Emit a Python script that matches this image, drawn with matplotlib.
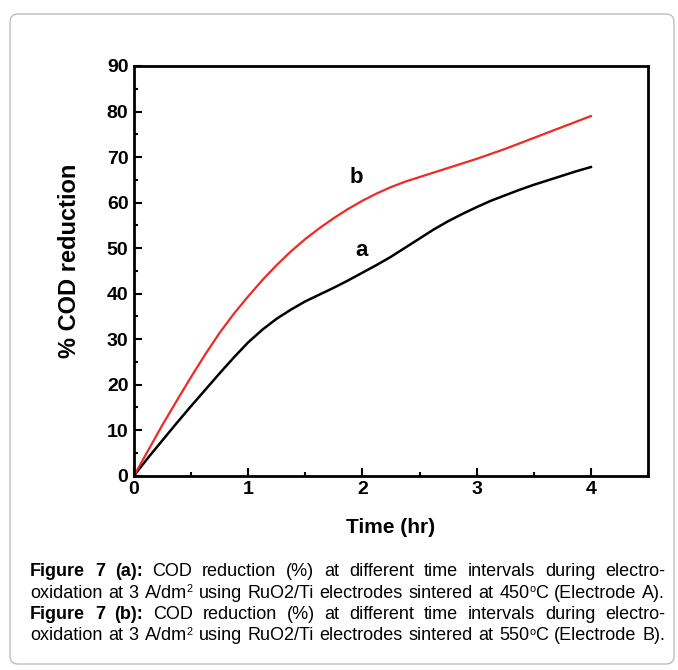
import matplotlib
matplotlib.use("Agg")
import matplotlib.pyplot as plt
from matplotlib.patches import FancyBboxPatch
from matplotlib.ticker import MultipleLocator

plt.rcParams['font.family'] = ['Liberation Sans', 'DejaVu Sans']

time_hr = [0, 0.125, 0.25, 0.375, 0.5, 0.625, 0.75, 0.875, 1.0, 1.125, 1.25, 1.375, 1.5, 1.625,
           1.75, 1.875, 2.0, 2.125, 2.25, 2.375, 2.5, 2.625, 2.75, 2.875, 3.0, 3.125, 3.25,
           3.375, 3.5, 3.625, 3.75, 3.875, 4.0]
cod_a = [0, 4.0, 7.8, 11.6, 15.3, 18.9, 22.5, 26.0, 29.3, 32.1, 34.5, 36.5, 38.3, 39.8,
         41.3, 42.9, 44.6, 46.3, 48.1, 50.1, 52.1, 54.1, 55.9, 57.5, 59.0, 60.4, 61.6,
         62.8, 63.9, 64.9, 65.9, 66.9, 67.8]
cod_b = [0, 5.6, 11.2, 16.5, 21.7, 26.7, 31.4, 35.6, 39.4, 43.0, 46.3, 49.3, 52.0, 54.4,
         56.6, 58.6, 60.4, 62.0, 63.4, 64.6, 65.6, 66.6, 67.6, 68.6, 69.6, 70.7, 71.8,
         73.0, 74.2, 75.4, 76.6, 77.8, 79.0]
x_ticks = [0, 1, 2, 3, 4]
y_ticks = [0, 10, 20, 30, 40, 50, 60, 70, 80, 90]

W, H = 678, 670
fig = plt.figure(figsize=(W/100, H/100), dpi=100)

# rounded border
box = FancyBboxPatch((10/W, 6/H), (W-14)/W, (H-20)/H,
                     boxstyle="round,pad=0,rounding_size=0.012",
                     transform=fig.transFigure, fill=False,
                     edgecolor='#bdbdbd', linewidth=1.0)
fig.patches.append(box)

ax = fig.add_axes([134/W, 1-475.7/H, (648-134)/W, (475.7-66)/H])
ax.plot(time_hr, cod_a, color='black', lw=1.8, solid_joinstyle='round')
ax.plot(time_hr, cod_b, color='#ee2a24', lw=1.6, solid_joinstyle='round')
ax.set_xlim(0, 4.5)
ax.set_ylim(0, 90)
ax.set_xticks(x_ticks)
ax.set_yticks(y_ticks)
ax.xaxis.set_minor_locator(MultipleLocator(0.5))
ax.yaxis.set_minor_locator(MultipleLocator(5))
ax.tick_params(which='both', direction='in', top=False, right=False, width=1.5)
ax.tick_params(which='major', length=6, labelsize=14, pad=4)
ax.tick_params(which='minor', length=3)
for lab in ax.get_xticklabels() + ax.get_yticklabels():
    lab.set_fontweight('bold')
for s in ax.spines.values():
    s.set_linewidth(2)
ax.set_xlabel('Time (hr)', fontsize=15, fontweight='bold', labelpad=14)
ax.set_ylabel('% COD reduction', fontsize=17, fontweight='bold')
ax.yaxis.set_label_coords(-0.103, 0.524)
ax.text(1.95, 65.5, 'b', fontsize=16, fontweight='bold', ha='center', va='center')
ax.text(1.99, 49.5, 'a', fontsize=16, fontweight='bold', ha='center', va='center')

# caption: each word is a list of (text, style) segments; style n=normal, b=bold, s=superscript
lines = [
    [[("Figure", 'b')], [("7", 'b')], [("(a):", 'b')], [("COD", 'n')], [("reduction", 'n')], [("(%)", 'n')],
     [("at", 'n')], [("different", 'n')], [("time", 'n')], [("intervals", 'n')], [("during", 'n')], [("electro-", 'n')]],
    [[("oxidation", 'n')], [("at", 'n')], [("3", 'n')], [("A/dm", 'n'), ("2", 's')], [("using", 'n')], [("RuO2/Ti", 'n')],
     [("electrodes", 'n')], [("sintered", 'n')], [("at", 'n')], [("450", 'n'), ("o", 's'), ("C", 'n')], [("(Electrode", 'n')], [("A).", 'n')]],
    [[("Figure", 'b')], [("7", 'b')], [("(b):", 'b')], [("COD", 'n')], [("reduction", 'n')], [("(%)", 'n')],
     [("at", 'n')], [("different", 'n')], [("time", 'n')], [("intervals", 'n')], [("during", 'n')], [("electro-", 'n')]],
    [[("oxidation", 'n')], [("at", 'n')], [("3", 'n')], [("A/dm", 'n'), ("2", 's')], [("using", 'n')], [("RuO2/Ti", 'n')],
     [("electrodes", 'n')], [("sintered", 'n')], [("at", 'n')], [("550", 'n'), ("o", 's'), ("C", 'n')], [("(Electrode", 'n')], [("B).", 'n')]],
]
baselines = [576, 597.5, 619, 640.5]
x_left, x_right = 30, 665
fig.canvas.draw()
renderer = fig.canvas.get_renderer()

def make_word(word, yb, fs):
    arts = []
    total = 0.0
    for txt, st in word:
        size = fs * 0.6 if st == 's' else fs
        t = fig.text(0, 1 - (yb - (0.46 * fs if st == 's' else 0)) / H, txt, fontsize=size,
                     fontweight='bold' if st == 'b' else 'normal', ha='left', va='baseline')
        w = t.get_window_extent(renderer=renderer).width
        arts.append((t, total))
        total += w
    return arts, total

# choose font size so that line 2 set with normal spaces fills the width
fs0 = 12.0
probe = [make_word(w, 0, fs0) for w in lines[1]]
nat = sum(p[1] for p in probe) + 0.278 * fs0 * 100 / 72 * (len(lines[1]) - 1)
for arts, _ in probe:
    for t, _o in arts:
        t.remove()
fs = fs0 * (x_right - x_left) / nat * 0.99

for words, yb in zip(lines, baselines):
    made = [make_word(w, yb, fs) for w in words]
    tot = sum(m[1] for m in made)
    gap = (x_right - x_left - tot) / (len(words) - 1)
    gap = max(gap, 2.5)
    x = x_left
    for arts, wd in made:
        for t, off in arts:
            t.set_x((x + off) / W)
        x += wd + gap

fig.savefig('out.png', dpi=100)
